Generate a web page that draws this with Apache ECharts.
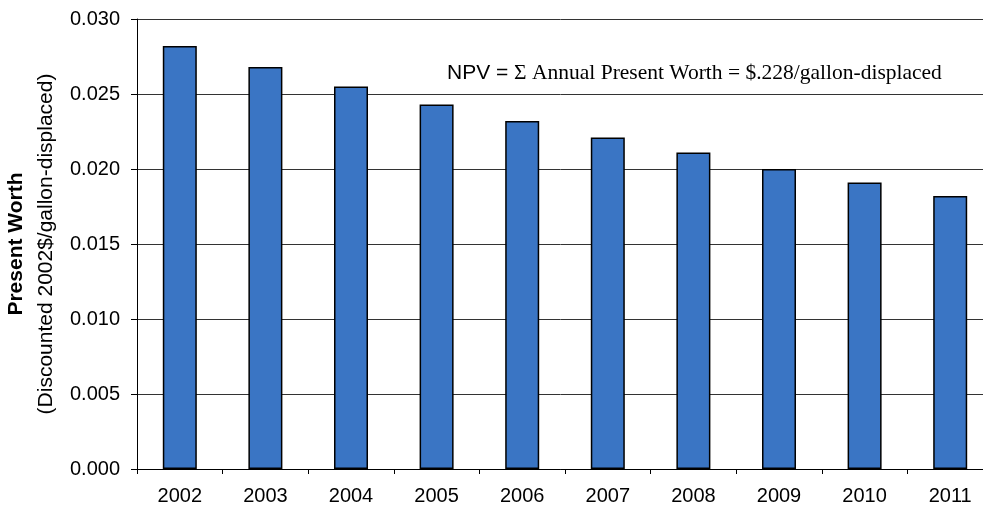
<!DOCTYPE html>
<html>
<head>
<meta charset="utf-8">
<script src="https://cdn.jsdelivr.net/npm/echarts@6/dist/echarts.min.js"></script>
<style>
  html, body { margin: 0; padding: 0; background: #fff; }
  #chart { width: 983px; height: 512px; }
</style>
</head>
<body>
<div id="chart"></div>
<script>
var years = ['2002', '2003', '2004', '2005', '2006', '2007', '2008', '2009', '2010', '2011'];
var presentWorth = [0.0282, 0.0268, 0.0255, 0.0243, 0.0232, 0.0221, 0.0211, 0.0200, 0.0191, 0.0182];
var npvNote = 'Σ Annual Present Worth = $.228/gallon-displaced';

var myChart = echarts.init(document.getElementById('chart'));
myChart.setOption({
    animation: false,
    grid: {
        left: 137,
        top: 19,
        width: 856,
        height: 450,
        outerBoundsMode: 'none'
    },
    xAxis: {
        type: 'category',
        data: years,
        axisLine: { lineStyle: { color: '#000', width: 1 } },
        axisTick: { show: true, length: 5, lineStyle: { color: '#000' } },
        axisLabel: {
            margin: 17,
            color: '#000',
            fontFamily: 'Liberation Sans',
            fontSize: 20
        }
    },
    yAxis: {
        type: 'value',
        min: 0,
        max: 0.03,
        interval: 0.005,
        axisLine: { show: true, lineStyle: { color: '#000', width: 1 } },
        axisTick: { show: true, length: 6, lineStyle: { color: '#000' } },
        splitLine: { show: true, lineStyle: { color: '#333', width: 1 } },
        axisLabel: {
            margin: 17,
            color: '#000',
            fontFamily: 'Liberation Sans',
            fontSize: 20,
            formatter: function (val) {
                return val.toFixed(3);
            }
        },
        name: '{a|Present Worth}\n{b|(Discounted 2002$/gallon-displaced)}',
        nameLocation: 'middle',
        nameRotate: 90,
        nameGap: 76,
        nameTextStyle: {
            rich: {
                a: { fontFamily: 'Liberation Sans', fontSize: 21, fontWeight: 'bold', color: '#000', lineHeight: 30, align: 'center' },
                b: { fontFamily: 'Liberation Sans', fontSize: 21, color: '#000', lineHeight: 30, align: 'center' }
            }
        }
    },
    graphic: [
        {
            type: 'text',
            left: 447,
            top: 62,
            style: {
                text: '{a|NPV = }{b|' + npvNote + '}',
                rich: {
                    a: { fontFamily: 'Liberation Sans', fontSize: 21, fill: '#000' },
                    b: { fontFamily: 'Liberation Serif', fontSize: 21.5, fill: '#000' }
                }
            }
        }
    ],
    series: [
        {
            type: 'bar',
            data: presentWorth,
            barWidth: 34,
            itemStyle: {
                color: '#3a75c4',
                borderColor: '#000',
                borderWidth: 1.5
            }
        }
    ]
});
</script>
</body>
</html>
